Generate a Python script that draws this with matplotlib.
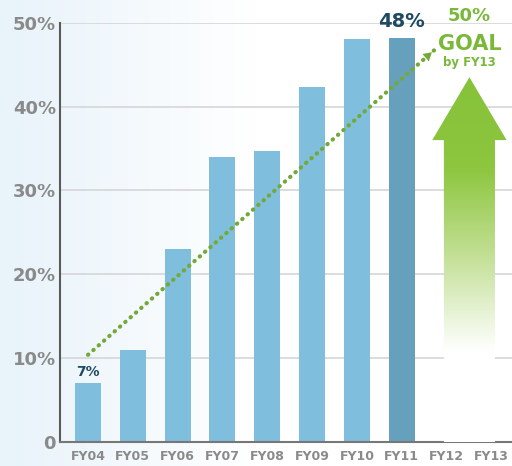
import numpy as np
import matplotlib.pyplot as plt
from matplotlib.patches import Polygon

# daten
jahre = ["FY04", "FY05", "FY06", "FY07", "FY08", "FY09", "FY10", "FY11", "FY12", "FY13"]
werte = [7, 11, 23, 34, 34.7, 42.3, 48, 48.2]
trend_x = [0, 7.72]
trend_y = [10.4, 46.7]
ziel_wert = 50
yticks = [0, 10, 20, 30, 40, 50]
ytick_labels = ["0", "10%", "20%", "30%", "40%", "50%"]

hellblau = "#7fbedd"
dunkelblau = "#67a0bc"
gruen = "#74a93a"
grau = "#8a8a8a"

fig = plt.figure(figsize=(5.12, 4.66), dpi=100)

# hintergrund verlauf (links leicht blau)
bg = fig.add_axes([0, 0, 1, 1], zorder=-5)
verlauf = np.linspace(0, 1, 256)[None, :]
bg.imshow(verlauf, aspect="auto", extent=[0, 1, 0, 1],
          cmap=plt.matplotlib.colors.LinearSegmentedColormap.from_list(
              "bg", ["#e8f3fa", "#ffffff", "#ffffff"]))
bg.axis("off")

ax = fig.add_axes([60 / 512, 1 - 442 / 466, 1 - 60 / 512, (442 - 22.7) / 466])
ax.patch.set_alpha(0)

x = np.arange(len(werte))
farben = [hellblau] * (len(werte) - 1) + [dunkelblau]
ax.bar(x, werte, width=0.58, color=farben, zorder=2)

ax.set_xlim(-0.625, 9.46)
ax.set_ylim(0, 50)
ax.set_xticks(np.arange(len(jahre)))
ax.set_xticklabels(jahre, fontsize=9, fontweight="bold", color=grau)
ax.set_yticks(yticks)
ax.set_yticklabels(ytick_labels, fontsize=13, fontweight="bold", color=grau)
ax.tick_params(axis="y", length=0, pad=3)
ax.tick_params(axis="x", length=0, pad=6)
ax.grid(axis="y", color="#d6d6d6", linewidth=1.2, zorder=0)
ax.set_axisbelow(True)
for s in ["top", "right"]:
    ax.spines[s].set_visible(False)
ax.spines["left"].set_color("#5a5a5a")
ax.spines["left"].set_linewidth(1.5)
ax.spines["bottom"].set_color("#777777")
ax.spines["bottom"].set_linewidth(1.5)

# gruener ziel-pfeil mit verlauf
cx, sw, hw = 8.51, 0.57, 0.83
spitze, kopf = 43.5, 36.0
pfeil = Polygon([[cx - sw, 0], [cx - sw, kopf], [cx - hw, kopf], [cx, spitze],
                 [cx + hw, kopf], [cx + sw, kopf], [cx + sw, 0]],
                closed=True, facecolor="none", edgecolor="none")
ax.add_patch(pfeil)
grad = np.linspace(0, 1, 256)[:, None]
cm_gruen = plt.matplotlib.colors.LinearSegmentedColormap.from_list(
    "gr", ["#ffffff", "#ffffff", "#c5e19a", "#8dc63f", "#86c23a"])
im = ax.imshow(grad, aspect="auto", origin="lower", cmap=cm_gruen,
               extent=[cx - hw, cx + hw, 0, spitze], zorder=3)
im.set_clip_path(pfeil)
ax.set_xlim(-0.625, 9.46)
ax.set_ylim(0, 50)

# gepunktete trendlinie
ax.plot(trend_x, trend_y, linestyle=(0, (0.1, 1.6)), dash_capstyle="round",
        color=gruen, linewidth=3, zorder=4)
ax.annotate("", xy=(trend_x[1], trend_y[1]), xytext=(trend_x[1] - 0.3, trend_y[1] - 1.4),
            arrowprops=dict(arrowstyle="-|>,head_length=0.6,head_width=0.35",
                            color=gruen, lw=0), zorder=4)

# beschriftungen
ax.text(0, werte[0] + 0.5, "7%", ha="center", va="bottom", fontsize=10,
        fontweight="bold", color="#1e4a63")
ax.text(7, 49.0, "48%", ha="center", va="bottom", fontsize=14,
        fontweight="bold", color="#1e4a63", clip_on=False)
ax.text(cx, 50.8, f"{ziel_wert}%", ha="center", va="center", fontsize=13,
        fontweight="bold", color="#7ab83a", clip_on=False)
ax.text(cx, 47.5, "GOAL", ha="center", va="center", fontsize=15,
        fontweight="bold", color="#7ab83a")
ax.text(cx, 45.3, "by FY13", ha="center", va="center", fontsize=8.5,
        fontweight="bold", color="#7ab83a")

fig.savefig("out.png", dpi=100)
